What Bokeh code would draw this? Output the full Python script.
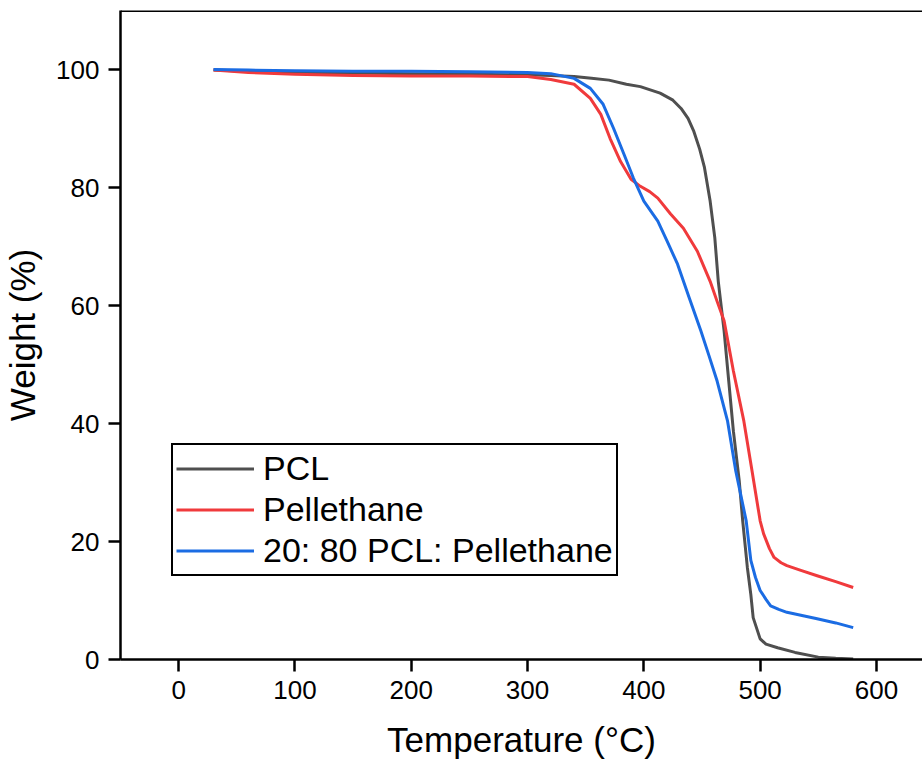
from bokeh.plotting import figure
from bokeh.models import Legend, LegendItem, Span, Range1d, FixedTicker
from bokeh.embed import file_html
from bokeh.resources import INLINE

# Data (Temperature °C, Weight %)
pcl_t = [30, 60, 100, 150, 200, 250, 300, 320, 340, 355, 370, 385, 397, 414, 425, 432, 438, 443,
         448, 452, 457, 461, 464, 469, 473, 477, 482, 485, 489, 492, 494, 500, 505, 515, 530, 550, 565, 580]
pcl_w = [99.9, 99.7, 99.5, 99.4, 99.3, 99.2, 99.1, 99.0, 98.8, 98.5, 98.2, 97.5, 97.1, 96.0, 94.8, 93.4, 91.7, 89.5,
         86.5, 83.5, 77.7, 71.5, 64.1, 55.7, 47.2, 38.7, 30.3, 23.5, 15.6, 11.0, 7.1, 3.5, 2.6, 2.0, 1.2, 0.4, 0.2, 0.1]

pel_t = [30, 60, 100, 150, 200, 250, 300, 320, 340, 354, 363, 371, 380, 389, 397, 405, 412, 423, 434, 446,
         457, 463, 469, 477, 486, 493, 500, 503, 508, 512, 518, 523, 535, 549, 565, 580]
pel_w = [99.9, 99.5, 99.2, 99.0, 98.9, 98.9, 98.8, 98.3, 97.5, 95.1, 92.4, 88.3, 84.4, 81.4, 80.2, 79.3, 78.2, 75.5, 73.1, 69.2,
         64.1, 60.7, 57.4, 48.9, 40.4, 32.0, 23.5, 21.3, 18.8, 17.3, 16.4, 15.9, 15.1, 14.2, 13.2, 12.2]

blend_t = [30, 60, 100, 150, 200, 250, 300, 320, 340, 354, 365, 374, 383, 391, 400, 412, 420, 429, 439, 449,
           456, 463, 472, 479, 488, 492, 496, 500, 505, 509, 516, 523, 535, 549, 565, 580]
blend_w = [100.0, 99.9, 99.8, 99.7, 99.7, 99.6, 99.5, 99.3, 98.5, 96.8, 94.1, 90.0, 85.6, 81.6, 77.7, 74.3, 70.9, 67.0, 61.3, 55.7,
           51.5, 47.2, 40.4, 32.0, 23.5, 16.8, 13.9, 11.7, 10.2, 9.1, 8.5, 8.0, 7.5, 6.9, 6.2, 5.4]

series_names = ["PCL", "Pellethane", "20: 80 PCL: Pellethane"]
x_ticks = [0, 100, 200, 300, 400, 500, 600]
y_ticks = [0, 20, 40, 60, 80, 100]

FONT = "Liberation Sans"

p = figure(width=922, height=766, output_backend="svg", toolbar_location=None,
           x_range=Range1d(-50, 639.6), y_range=Range1d(0, 110),
           min_border_left=120, min_border_right=0, min_border_top=10, min_border_bottom=107)

p.xgrid.visible = False
p.ygrid.visible = False
p.outline_line_color = None
p.background_fill_color = "white"
p.border_fill_color = "white"

for ax in (p.xaxis[0], p.yaxis[0]):
    ax.axis_line_width = 2.5
    ax.axis_line_color = "black"
    ax.major_tick_line_width = 2.5
    ax.major_tick_line_color = "black"
    ax.major_tick_out = 12
    ax.major_tick_in = 0
    ax.minor_tick_line_color = None
    ax.major_label_text_font = FONT
    ax.major_label_text_font_size = "26px"
    ax.major_label_text_color = "black"
    ax.axis_label_text_font = FONT
    ax.axis_label_text_font_size = "35px"
    ax.axis_label_text_font_style = "normal"
    ax.axis_label_text_color = "black"

p.xaxis.ticker = FixedTicker(ticks=x_ticks)
p.yaxis.ticker = FixedTicker(ticks=y_ticks)
p.xaxis.axis_label = "Temperature (°C)"
p.yaxis.axis_label = "Weight (%)"
p.xaxis.major_label_standoff = 9
p.yaxis.major_label_standoff = 9
p.xaxis.axis_label_standoff = 18
p.yaxis.axis_label_standoff = 11

# top frame line
p.add_layout(Span(location=110, dimension="width", line_color="black", line_width=3))

r1 = p.line(pcl_t, pcl_w, line_color="#4f4f4f", line_width=3, line_join="round")
r2 = p.line(pel_t, pel_w, line_color="#f03a3c", line_width=3, line_join="round")
r3 = p.line(blend_t, blend_w, line_color="#1b6ce3", line_width=3, line_join="round")

legend = Legend(items=[LegendItem(label=series_names[0], renderers=[r1]),
                       LegendItem(label=series_names[1], renderers=[r2]),
                       LegendItem(label=series_names[2], renderers=[r3])],
                location=(51, 83), orientation="vertical",
                label_text_font=FONT, label_text_font_size="34px", label_text_color="black",
                glyph_width=78, glyph_height=41, label_height=41, label_standoff=9,
                spacing=0, padding=3, margin=0,
                border_line_color="black", border_line_width=2.5, border_line_alpha=1,
                background_fill_color="white", background_fill_alpha=1)
p.add_layout(legend, "center")

open("out.html", "w").write(file_html(p, INLINE))
